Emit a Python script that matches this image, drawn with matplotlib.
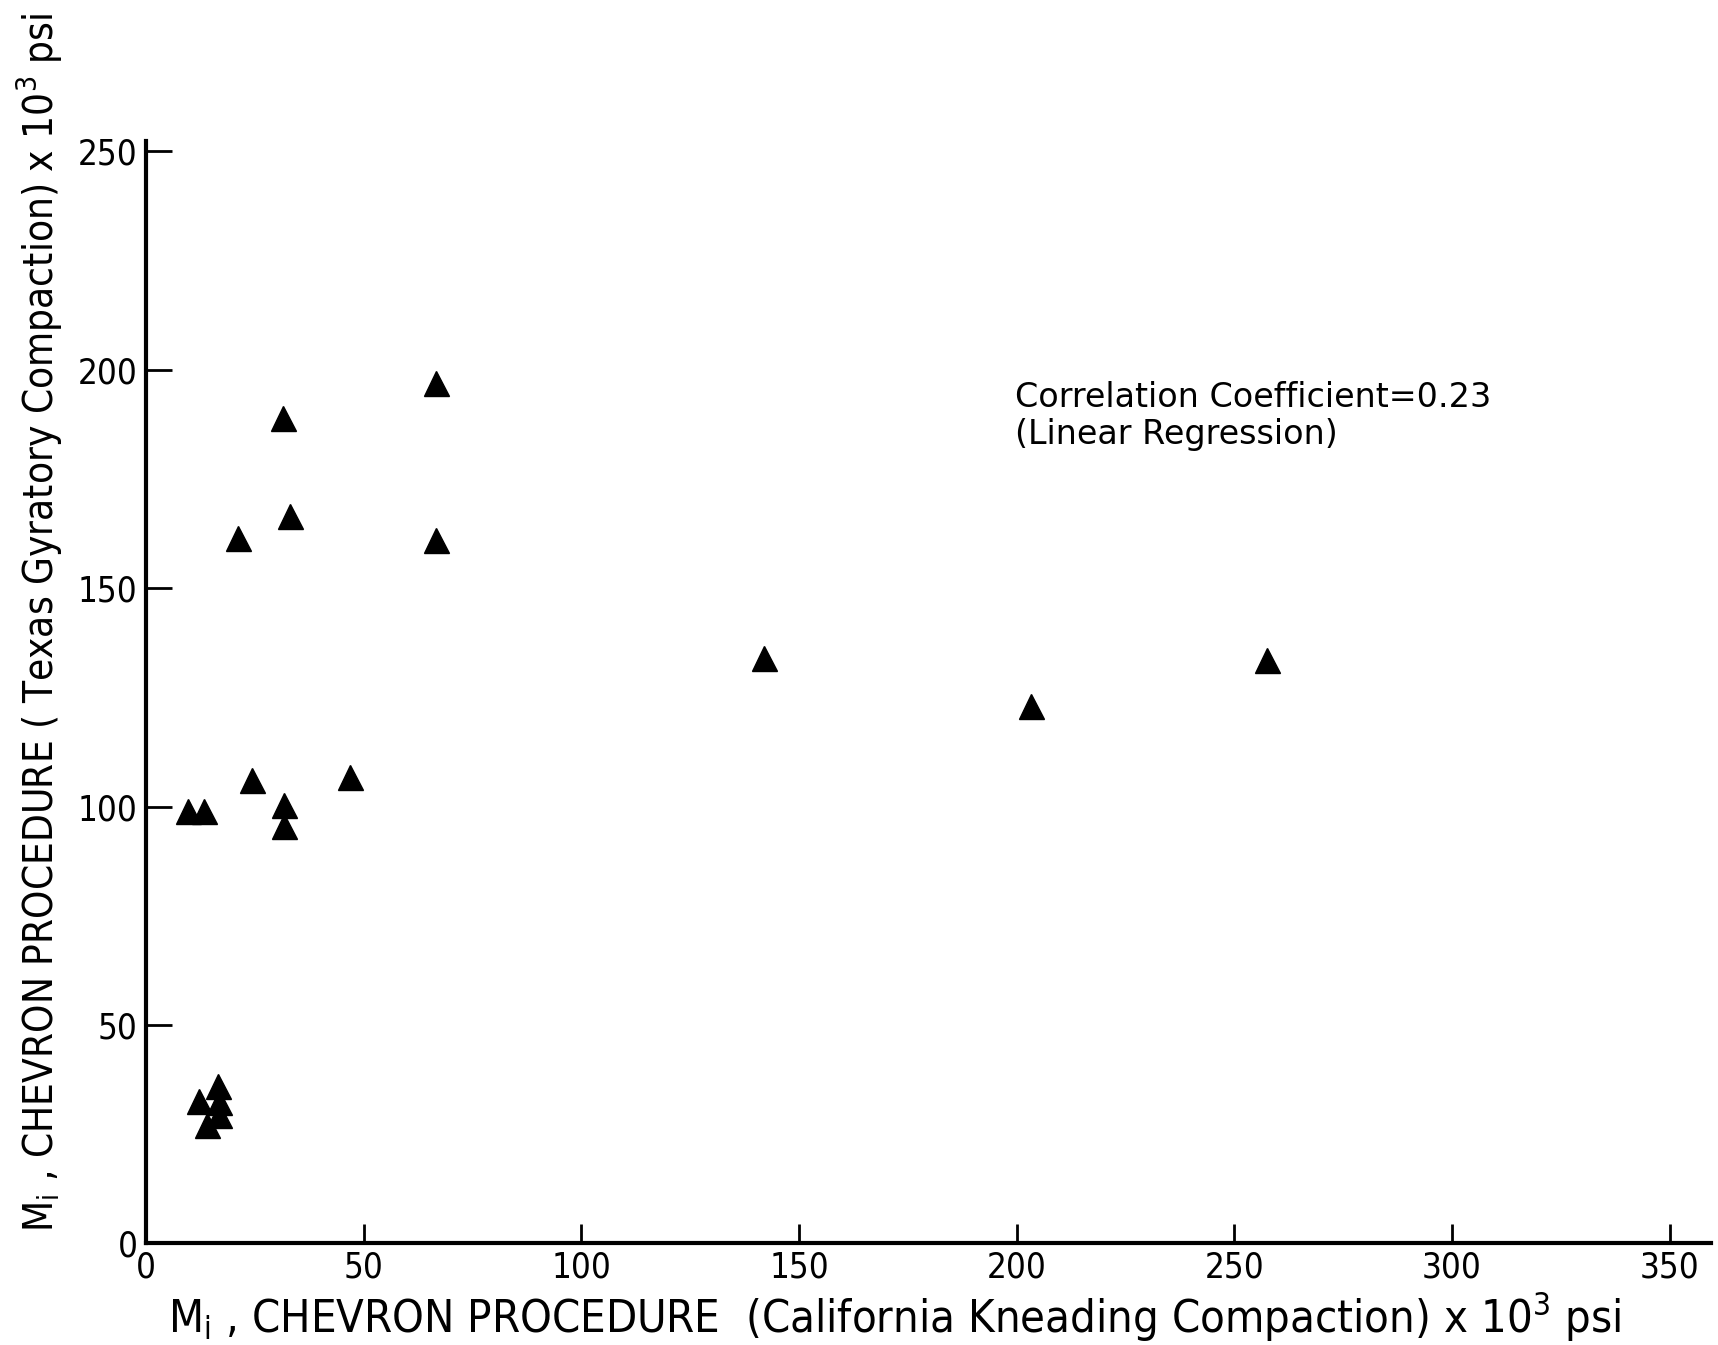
import matplotlib.pyplot as plt

# values (x10^3 psi)
california_kneading = [66.5, 31.5, 21.2, 33.0, 66.5, 142.0, 203.3, 257.5,
                       24.3, 46.8, 9.6, 13.3, 31.8, 31.8,
                       12.1, 16.6, 16.7, 16.7, 14.1]
texas_gyratory = [197.0, 189.0, 161.5, 166.5, 161.0, 134.0, 123.0, 133.5,
                  106.0, 106.8, 99.0, 99.0, 100.3, 95.5,
                  32.5, 36.0, 32.3, 29.5, 27.2]

x_ticks = [0, 50, 100, 150, 200, 250, 300, 350]
y_ticks = [0, 50, 100, 150, 200, 250]

fig = plt.figure(figsize=(17.18, 13.45), dpi=100)
ax = fig.add_axes([0.085, 0.0755, 0.911, 0.82])

ax.plot(california_kneading, texas_gyratory, linestyle='none', marker='^',
        markersize=18, color='black')

ax.set_xlim(0, 359.5)
ax.set_ylim(0, 252.5)
ax.set_xticks(x_ticks)
ax.set_yticks(y_ticks)

for side in ['top', 'right']:
    ax.spines[side].set_visible(False)
for side in ['left', 'bottom']:
    ax.spines[side].set_linewidth(3)

ax.tick_params(axis='both', direction='in', width=2, labelsize=25, pad=5)
ax.tick_params(axis='x', length=14)
ax.tick_params(axis='y', length=19, pad=6)
for lab in ax.get_xticklabels() + ax.get_yticklabels():
    lab.set_fontstretch('condensed')

ax.set_xlabel(r'M$_{\mathregular{i}}$ , CHEVRON PROCEDURE  (California Kneading Compaction) x 10$^{\mathregular{3}}$ psi',
              fontsize=32.5, fontstretch='condensed')
ax.xaxis.set_label_coords(0.478, -0.043)
ax.set_ylabel(r'M$_{\mathregular{i}}$ , CHEVRON PROCEDURE ( Texas Gyratory Compaction) x 10$^{\mathregular{3}}$ psi',
              fontsize=29, fontstretch='condensed')
ax.yaxis.set_label_coords(-0.052, 0.563)

ax.text(199.5, 197.5, 'Correlation Coefficient=0.23\n(Linear Regression)',
        fontsize=24, va='top', ha='left', linespacing=1.15)

fig.savefig('out.png', dpi=100)
